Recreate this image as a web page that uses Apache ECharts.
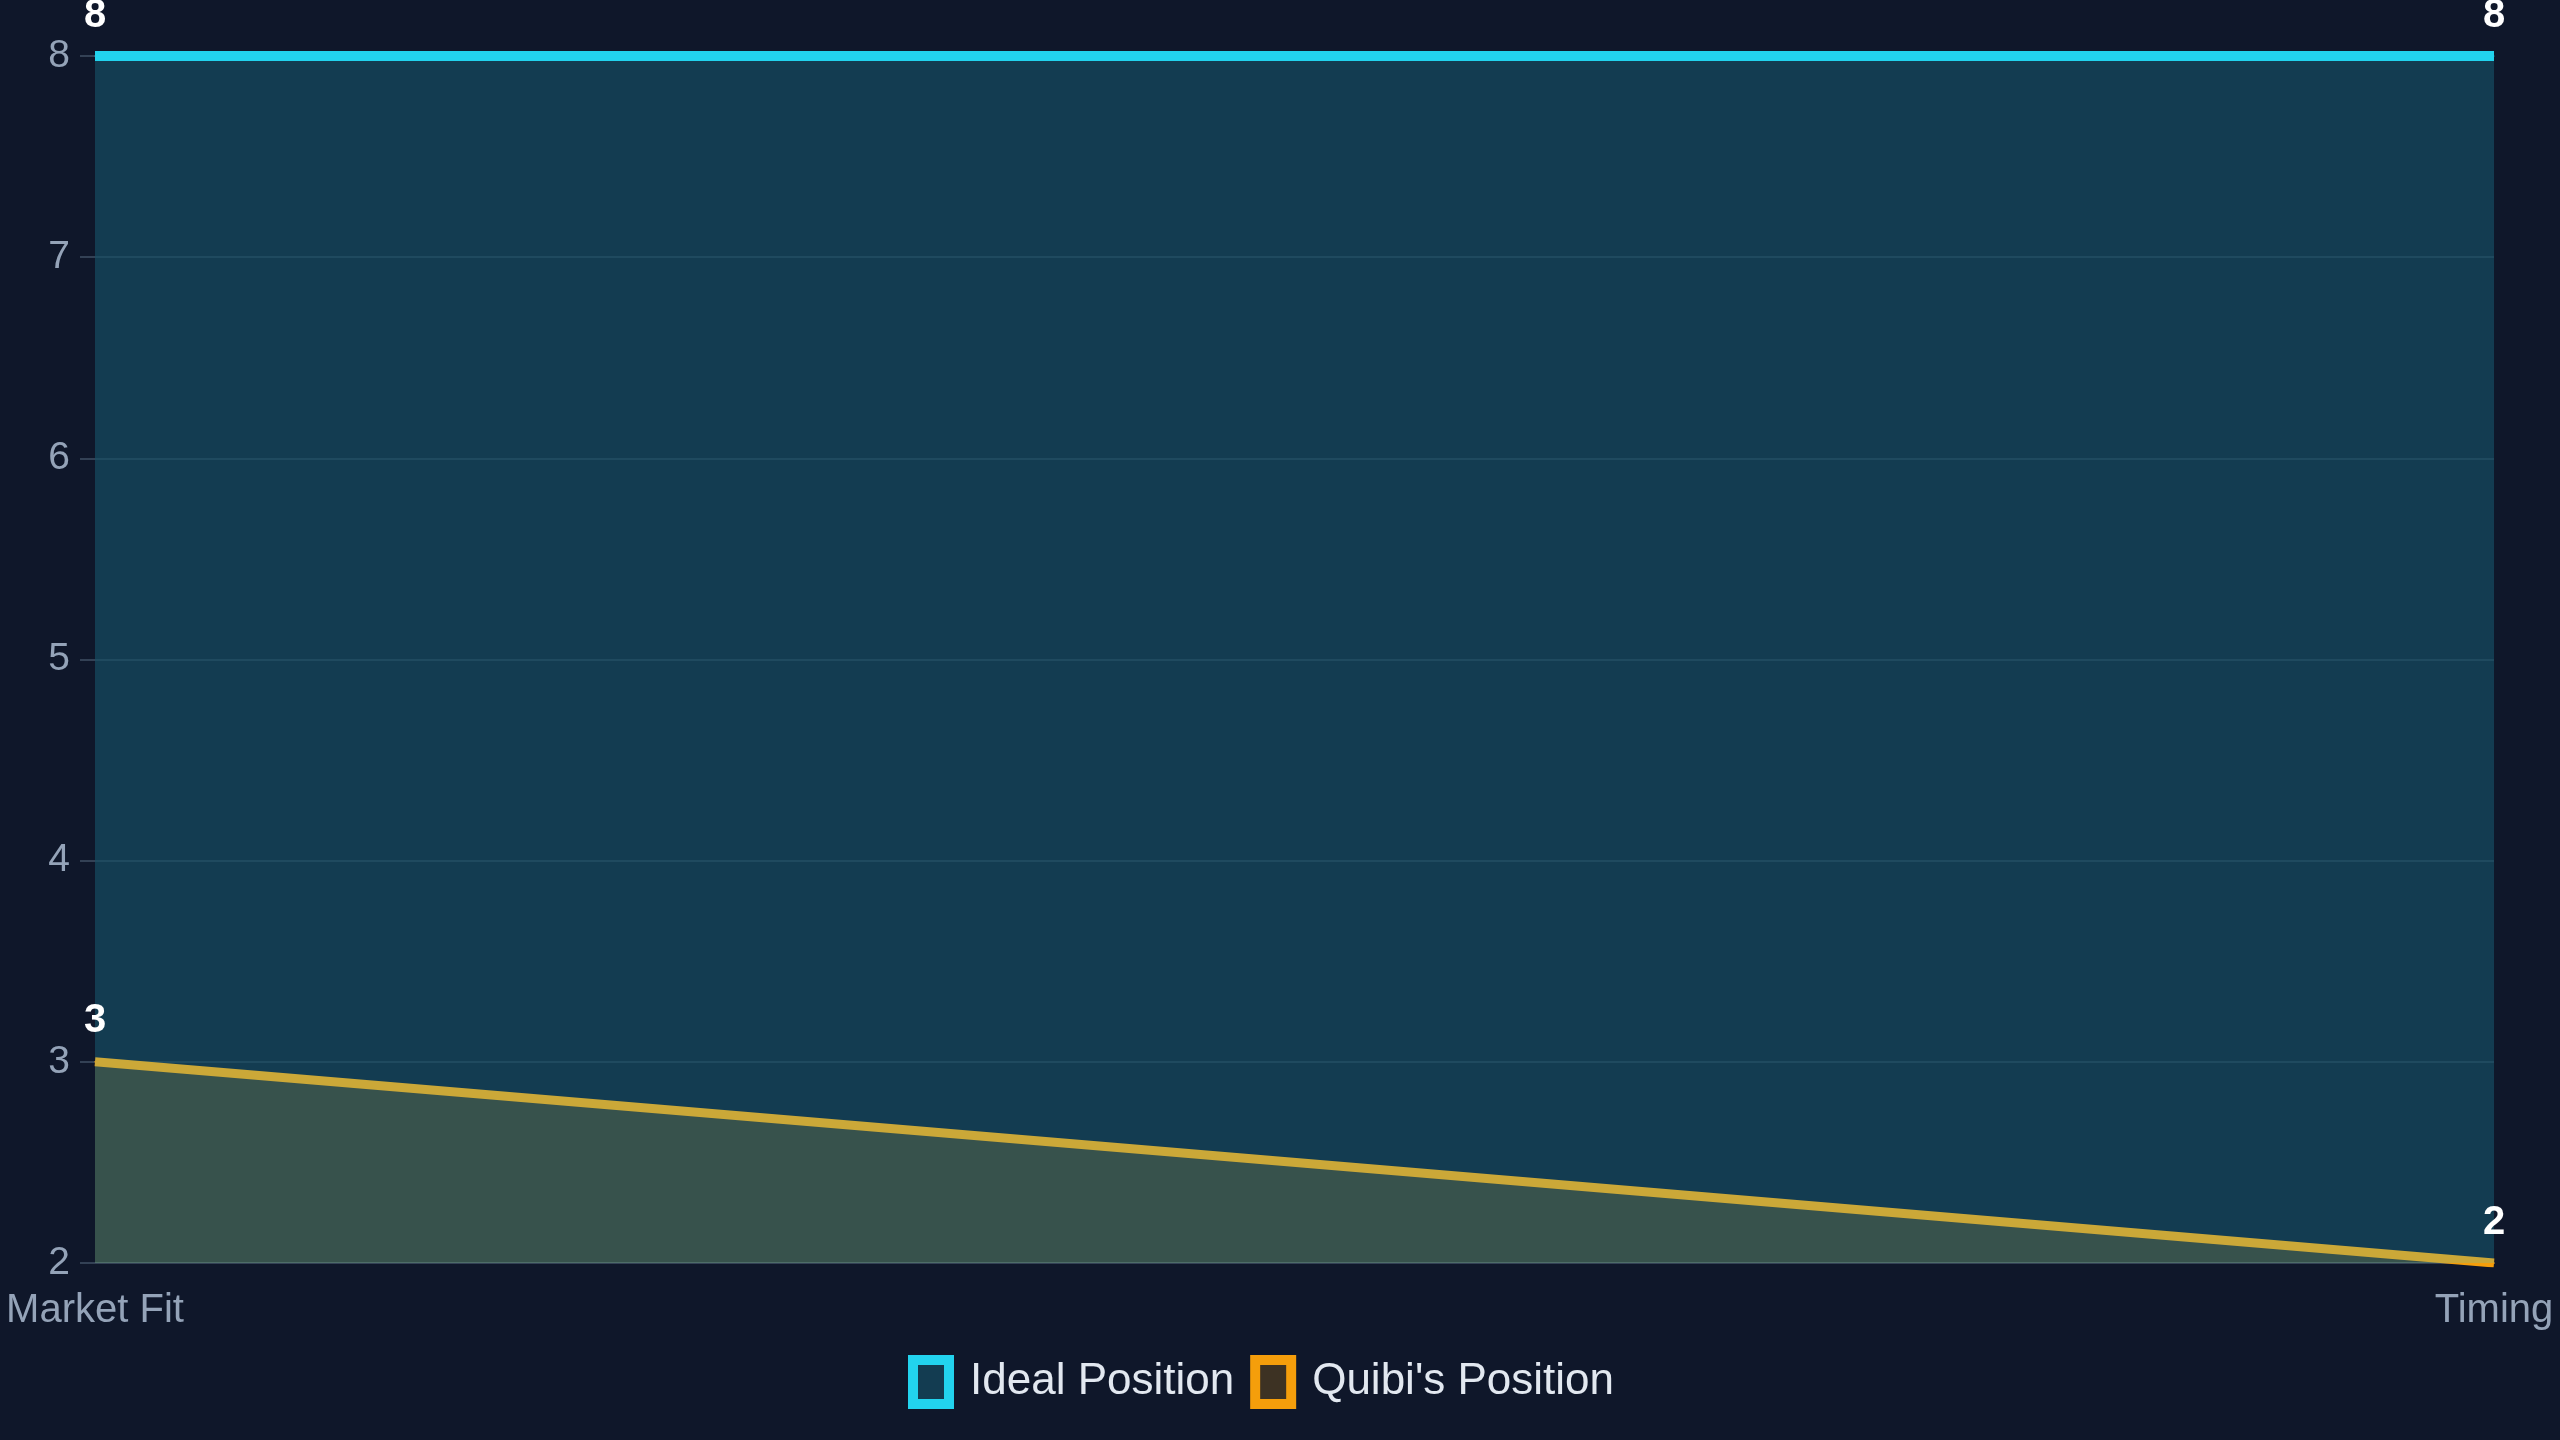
<!DOCTYPE html>
<html>
<head>
<meta charset="utf-8">
<script src="https://cdn.jsdelivr.net/npm/echarts@6/dist/echarts.min.js"></script>
<style>
html,body{margin:0;padding:0;background:#0f172a;}
#chart{width:2560px;height:1440px;}
</style>
</head>
<body>
<div id="chart"></div>
<script>
const categories = ['Market Fit', 'Timing'];
const idealValues = [8, 8];
const quibiValues = [3, 2];
const seriesNames = ['Ideal Position', "Quibi's Position"];

const chart = echarts.init(document.getElementById('chart'));
const labelStyle = {
  show: true, position: 'top', distance: 20,
  color: '#ffffff', fontWeight: 'bold', fontSize: 40,
  fontFamily: 'Liberation Sans'
};
chart.setOption({
  backgroundColor: '#0f172a',
  animation: false,
  textStyle: { fontFamily: 'Liberation Sans' },
  grid: { left: 95, right: 66, top: 56, bottom: 177, containLabel: false },
  legend: {
    left: 908, top: 1355, padding: 0,
    icon: 'rect', itemWidth: 36, itemHeight: 44, itemGap: 16,
    textStyle: { color: '#e2e8f0', fontSize: 44, padding: [0, 0, 0, 16], fontFamily: 'Liberation Sans' },
    data: [
      { name: seriesNames[0], itemStyle: { color: 'rgba(34,211,238,0.2)', borderColor: '#22d3ee', borderWidth: 10 } },
      { name: seriesNames[1], itemStyle: { color: 'rgba(245,158,11,0.2)', borderColor: '#f59e0b', borderWidth: 10 } }
    ]
  },
  xAxis: {
    type: 'category', data: categories, boundaryGap: false,
    axisLine: { show: true, lineStyle: { color: '#334155', width: 2 } },
    axisTick: { show: false },
    axisLabel: { color: '#94a3b8', fontSize: 40, margin: 28 },
    splitLine: { show: false }
  },
  yAxis: {
    type: 'value', min: 2, max: 8, interval: 1,
    axisLine: { show: false },
    axisTick: { show: true, length: 15, lineStyle: { color: '#334155', width: 2 } },
    axisLabel: { color: '#94a3b8', fontSize: 39, margin: 25 },
    splitLine: { show: true, lineStyle: { color: '#1e293b', width: 2 } }
  },
  series: [
    {
      name: seriesNames[1], type: 'line', data: quibiValues, z: 2,
      symbol: 'circle', symbolSize: 1, showSymbol: true,
      lineStyle: { color: '#f59e0b', width: 9 },
      itemStyle: { color: '#f59e0b' },
      areaStyle: { color: '#f59e0b', opacity: 0.2 },
      label: { show: false },
      markPoint: {
        z: 10, symbol: 'circle', symbolSize: 1, silent: true,
        itemStyle: { color: '#f59e0b' },
        label: Object.assign({}, labelStyle, { formatter: '{c}' }),
        data: quibiValues.map((v, i) => ({ coord: [categories[i], v], value: v }))
      }
    },
    {
      name: seriesNames[0], type: 'line', data: idealValues, z: 3,
      symbol: 'circle', symbolSize: 1, showSymbol: true,
      lineStyle: { color: '#22d3ee', width: 10 },
      itemStyle: { color: '#22d3ee' },
      areaStyle: { color: '#22d3ee', opacity: 0.2 },
      label: labelStyle
    }
  ]
});
</script>
</body>
</html>
